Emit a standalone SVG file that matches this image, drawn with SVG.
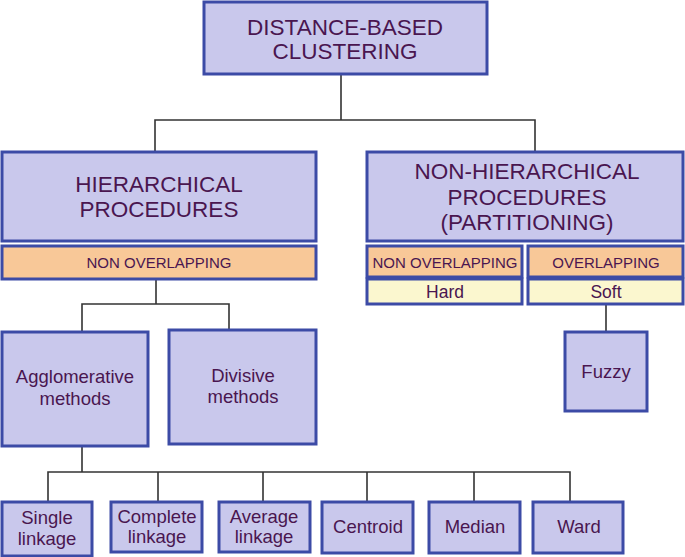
<svg xmlns="http://www.w3.org/2000/svg" width="685" height="557" viewBox="0 0 685 557">
<style>
.box{fill:#c9c8ec;stroke:#3c4ba6;stroke-width:3}
.org{fill:#f8c898;stroke:#3c4ba6;stroke-width:3}
.yel{fill:#fbf7cf;stroke:#3c4ba6;stroke-width:3}
text{font-family:"Liberation Sans",Arial,sans-serif;fill:#4a1650;text-anchor:middle}
.t1{font-size:22.5px}
.t2{font-size:15px}
.t3{font-size:18.5px}
.t4{font-size:17.5px}
.con{fill:none;stroke:#333;stroke-width:1.6}
</style>
<g id="connectors" class="con">
<path d="M341 74V120M155 152V120H535V152"/>
<path d="M156 279V304M82 332V304H229V330"/>
<path d="M606 304V332"/>
<path d="M82 446V472M48 502V472H570V502M158 472V502M263 472V502M367 472V502M474 472V502"/>
</g>
<g id="n_root"><rect class="box" x="204" y="2" width="283" height="72"/><text class="t1" x="345" y="35">DISTANCE-BASED</text><text class="t1" x="345" y="59">CLUSTERING</text></g>
<g id="n_hier"><rect class="box" x="2" y="152" width="314" height="89"/><text class="t1" x="159" y="192">HIERARCHICAL</text><text class="t1" x="159" y="217">PROCEDURES</text></g>
<g id="n_hier_no"><rect class="org" x="2" y="246" width="314" height="33"/><text class="t2" x="159" y="268">NON OVERLAPPING</text></g>
<g id="n_nonhier"><rect class="box" x="367" y="152" width="316" height="89"/><text class="t1" x="527" y="179">NON-HIERARCHICAL</text><text class="t1" x="527" y="205">PROCEDURES</text><text class="t1" x="527" y="230">(PARTITIONING)</text></g>
<g id="n_no"><rect class="org" x="367" y="246" width="155" height="31"/><text class="t2" x="445" y="268">NON OVERLAPPING</text></g>
<g id="n_hard"><rect class="yel" x="367" y="279" width="155" height="25"/><text class="t4" x="445" y="298">Hard</text></g>
<g id="n_ov"><rect class="org" x="528" y="246" width="155" height="31"/><text class="t2" x="606" y="268">OVERLAPPING</text></g>
<g id="n_soft"><rect class="yel" x="528" y="279" width="155" height="25"/><text class="t4" x="606" y="298">Soft</text></g>
<g id="n_fuzzy"><rect class="box" x="565" y="332" width="82" height="79"/><text class="t3" x="606" y="378">Fuzzy</text></g>
<g id="n_agg"><rect class="box" x="2" y="332" width="146" height="114"/><text class="t3" x="75" y="383">Agglomerative</text><text class="t3" x="75" y="405">methods</text></g>
<g id="n_div"><rect class="box" x="169" y="330" width="147" height="114"/><text class="t3" x="243" y="382">Divisive</text><text class="t3" x="243" y="403">methods</text></g>
<g id="n_single"><rect class="box" x="2" y="502" width="90" height="54"/><text class="t3" x="47" y="524">Single</text><text class="t3" x="47" y="545">linkage</text></g>
<g id="n_complete"><rect class="box" x="111" y="502" width="91" height="50"/><text class="t3" x="157" y="523">Complete</text><text class="t3" x="157" y="543">linkage</text></g>
<g id="n_average"><rect class="box" x="219" y="502" width="91" height="50"/><text class="t3" x="264" y="523">Average</text><text class="t3" x="264" y="543">linkage</text></g>
<g id="n_centroid"><rect class="box" x="322" y="502" width="91" height="51"/><text class="t3" x="368" y="533">Centroid</text></g>
<g id="n_median"><rect class="box" x="429" y="502" width="91" height="51"/><text class="t3" x="475" y="533">Median</text></g>
<g id="n_ward"><rect class="box" x="533" y="502" width="90" height="51"/><text class="t3" x="579" y="533">Ward</text></g>
</svg>
